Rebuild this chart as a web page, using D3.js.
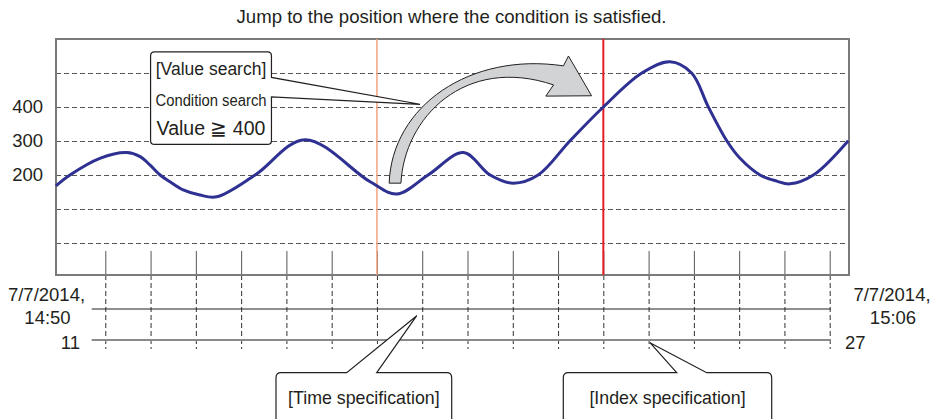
<!DOCTYPE html>
<html>
<head>
<meta charset="utf-8">
<script src="https://cdn.jsdelivr.net/npm/d3@7"></script>
<style>
  body { margin: 0; background: #fff; }
  svg { display: block; font-family: "Liberation Sans", Arial, sans-serif; }
  .grid line { stroke: #555; stroke-dasharray: 5,3; }
  .axis text { fill: #231f20; }
</style>
</head>
<body>
<svg id="chart"></svg>
<script>
// trend samples (x = record index, y = value)
const sample_index = [9.91, 10.22, 10.88, 11.47, 11.77, 11.99, 12.21, 12.43, 12.72, 13.09, 13.46,
  14.31, 15.41, 16.85, 17.44, 18.13, 18.91, 19.5, 20.01, 20.56, 21.26, 22.0, 22.85, 23.47, 23.95,
  24.32, 24.73, 25.02, 25.46, 25.83, 26.12, 26.64, 27.41];
const sample_value = [168, 200, 249, 266, 254, 229, 200, 180, 156, 141, 136,
  200, 304, 180, 144, 200, 266, 200, 176, 200, 300, 400, 500, 533, 500,
  400, 300, 249, 200, 182, 174, 200, 301];

const grid_values = [0, 100, 200, 300, 400, 500];
const value_ticks = [200, 300, 400];
const index_ticks = [11, 12, 13, 14, 15, 16, 17, 18, 19, 20, 21, 22, 23, 24, 25, 26, 27];

const time_start = ["7/7/2014,", "14:50"];
const time_end = ["7/7/2014,", "15:06"];
const index_start = "11";
const index_end = "27";

const time_marker = 17;   // cursor set by time
const found_marker = 22;  // first record with value >= 400

const title = "Jump to the position where the condition is satisfied.";


const width = 931, height = 419;
const frame = {left: 56, right: 849, top: 39, bottom: 275};
const time_row = 309, index_row = 340;
const ink = "#231f20";

const svg = d3.select("#chart").attr("width", width).attr("height", height);

const x = d3.scaleLinear().domain([11, 27]).range([105.3, 829.7]);
const y = d3.scaleLinear().domain([0, 500]).range([243, 73]);

svg.append("text")
  .attr("x", 451.5).attr("y", 22.5)
  .attr("text-anchor", "middle")
  .attr("font-size", 18.6)
  .attr("fill", ink)
  .text(title);

// dashed value grid
const grid = svg.append("g")
  .classed("grid", true)
  .attr("transform", `translate(${frame.left},0)`)
  .call(d3.axisLeft(y)
    .tickValues(grid_values)
    .tickSizeInner(-(frame.right - frame.left))
    .tickSizeOuter(0)
    .tickFormat(""));
grid.select(".domain").remove();

const yaxis = svg.append("g")
  .classed("axis", true)
  .attr("transform", `translate(${frame.left},0)`)
  .call(d3.axisLeft(y).tickValues(value_ticks).tickSizeInner(-5).tickSizeOuter(0).tickPadding(13));
yaxis.select(".domain").remove();
yaxis.selectAll("line").attr("stroke", "#555");
yaxis.selectAll("text").attr("font-size", 18.5).attr("font-family", null);

// short index ticks inside the frame
const inner_ticks = svg.append("g")
  .attr("transform", `translate(0,${frame.bottom})`)
  .call(d3.axisTop(x).tickValues(index_ticks).tickSize(24).tickFormat(""));
inner_ticks.select(".domain").remove();
inner_ticks.selectAll("line").attr("stroke", "#555");

// dashed guides down to the time / index rows
const guides = svg.append("g")
  .attr("transform", `translate(0,${frame.bottom})`)
  .call(d3.axisBottom(x).tickValues(index_ticks).tickSize(74).tickFormat(""));
guides.select(".domain").remove();
guides.selectAll("line").attr("stroke", "#333").attr("stroke-dasharray", "5,3");

svg.append("rect")
  .attr("x", frame.left).attr("y", frame.top)
  .attr("width", frame.right - frame.left)
  .attr("height", frame.bottom - frame.top)
  .attr("fill", "none")
  .attr("stroke", "#7a7a7a")
  .attr("stroke-width", 2);

svg.append("line")
  .attr("x1", x(time_marker)).attr("x2", x(time_marker))
  .attr("y1", frame.top).attr("y2", frame.bottom)
  .attr("stroke", "#f5a27e").attr("stroke-width", 1.5);

svg.append("line")
  .attr("x1", x(found_marker)).attr("x2", x(found_marker))
  .attr("y1", frame.top).attr("y2", frame.bottom)
  .attr("stroke", "#e31e24").attr("stroke-width", 2);

let line_spec = d3.line()
  .x(i => x(sample_index[i]))
  .y(i => y(sample_value[i]))
  .curve(d3.curveCatmullRom.alpha(0.5));

svg.append("path")
  .attr("d", line_spec(d3.range(sample_index.length)))
  .attr("fill", "none")
  .attr("stroke", "#2e3192")
  .attr("stroke-width", 3)
  .attr("stroke-linejoin", "round");

// curved "jump" arrow, points given as [index, value]
const arrow_outer = [[17.27, 176], [17.33, 403], [19.06, 562], [21.12, 521]];
const arrow_head = [[21.23, 550], [21.74, 433], [20.73, 432], [20.9, 465]];
const arrow_inner = [[20.9, 465], [18.94, 553], [17.6, 368], [17.53, 176]];

const px = p => [x(p[0]), y(p[1])];
{
  let p = d3.path();
  let o = arrow_outer.map(px), h = arrow_head.map(px), n = arrow_inner.map(px);
  p.moveTo(...o[0]);
  p.bezierCurveTo(...o[1], ...o[2], ...o[3]);
  h.forEach(q => p.lineTo(...q));
  p.bezierCurveTo(...n[1], ...n[2], ...n[3]);
  p.closePath();
  svg.append("path")
    .attr("d", p.toString())
    .attr("fill", "#d1d3d4")
    .attr("stroke", ink)
    .attr("stroke-width", 1);
}

// "[Value search]" callout, pointer on its right edge
{
  let x0 = x(12.0), x1 = x(14.67), y0 = y(562), y1 = y(290), r = 4;
  let tip = px([17.95, 408]);
  let p = d3.path();
  p.moveTo(x0 + r, y0);
  p.lineTo(x1 - r, y0);
  p.quadraticCurveTo(x1, y0, x1, y0 + r);
  p.lineTo(x1, y(487));
  p.lineTo(...tip);
  p.lineTo(x1, y(430));
  p.lineTo(x1, y1 - r);
  p.quadraticCurveTo(x1, y1, x1 - r, y1);
  p.lineTo(x0 + r, y1);
  p.quadraticCurveTo(x0, y1, x0, y1 - r);
  p.lineTo(x0, y0 + r);
  p.quadraticCurveTo(x0, y0, x0 + r, y0);
  p.closePath();
  svg.append("path").attr("d", p.toString())
    .attr("fill", "#fff").attr("stroke", ink).attr("stroke-width", 1.2);

  let cx = (x0 + x1) / 2;
  let rows = [
    {text: "[Value search]", dy: 22.8, size: 17.5},
    {text: "Condition search", dy: 54.3, size: 16, fit: 111},
    {text: "Value \u2267 400", dy: 82.8, size: 19.5},
  ];
  svg.selectAll("text.cond").data(rows).enter().append("text")
    .classed("cond", true)
    .attr("x", cx).attr("y", d => y0 + d.dy)
    .attr("text-anchor", "middle")
    .attr("font-size", d => d.size)
    .attr("textLength", d => d.fit || null)
    .attr("lengthAdjust", d => d.fit ? "spacingAndGlyphs" : null)
    .attr("fill", ink)
    .text(d => d.text);
}

// time / index rows
[[time_row, ink, 1], [index_row, "#8a8a8a", 1.8]].forEach(([row, color, w]) => {
  svg.append("line")
    .attr("x1", x(11) - 13.6).attr("x2", x(27) + 1)
    .attr("y1", row).attr("y2", row)
    .attr("stroke", color).attr("stroke-width", w);
});

function two_lines(lines, cx) {
  let t = svg.append("text")
    .attr("text-anchor", "middle")
    .attr("font-size", 18.5)
    .attr("fill", ink);
  t.append("tspan").attr("x", cx).attr("y", 300.5).text(lines[0]);
  t.append("tspan").attr("x", cx + 1).attr("y", 324).text(lines[1]);
}
two_lines(time_start, 46.5);
two_lines(time_end, 892);

svg.append("text").attr("x", 80).attr("y", 348.5)
  .attr("text-anchor", "end").attr("font-size", 18.5).attr("fill", ink)
  .text(index_start);
svg.append("text").attr("x", 845).attr("y", 348.5)
  .attr("font-size", 18.5).attr("fill", ink)
  .text(index_end);

// bottom callouts, boxes run off the page
const callouts = [
  {label: "[Time specification]", x0: 276, x1: 451.7, b0: 346.7, b1: 376.7, tip: [x(17.88), 315.7]},
  {label: "[Index specification]", x0: 563.3, x1: 771.7, b0: 676.7, b1: 706.7, tip: [x(23.03), 342.7]},
];
callouts.forEach(c => {
  let top = 372.7, r = 5, bottom = height + 10;
  let p = d3.path();
  p.moveTo(c.x0, bottom);
  p.lineTo(c.x0, top + r);
  p.quadraticCurveTo(c.x0, top, c.x0 + r, top);
  p.lineTo(c.b0, top);
  p.lineTo(...c.tip);
  p.lineTo(c.b1, top);
  p.lineTo(c.x1 - r, top);
  p.quadraticCurveTo(c.x1, top, c.x1, top + r);
  p.lineTo(c.x1, bottom);
  svg.append("path").attr("d", p.toString())
    .attr("fill", "#fff").attr("stroke", ink).attr("stroke-width", 1.2);
  svg.append("text")
    .attr("x", (c.x0 + c.x1) / 2).attr("y", 404)
    .attr("text-anchor", "middle")
    .attr("font-size", 17.8)
    .attr("fill", ink)
    .text(c.label);
});
</script>
</body>
</html>
